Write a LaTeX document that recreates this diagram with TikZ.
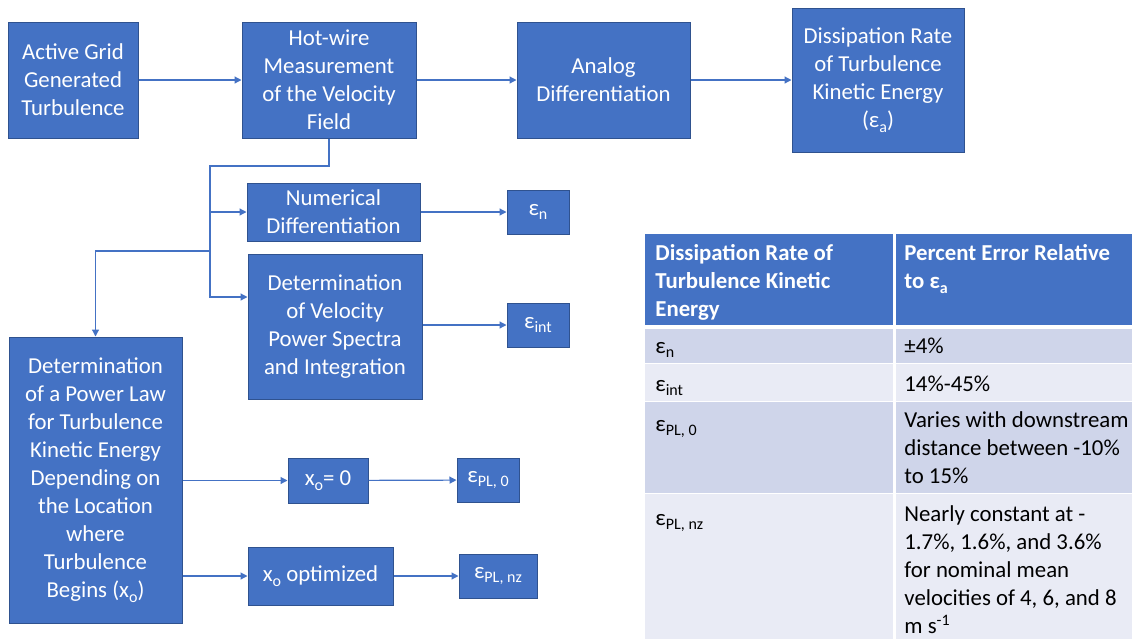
\documentclass[tikz,border=0pt]{standalone}
\usepackage{fontspec}
\setmainfont{Carlito}
\usetikzlibrary{arrows.meta,calc}
\definecolor{BoxClr}{HTML}{4472C4}
\definecolor{EdgeClr}{HTML}{2F528F}
\definecolor{RowClr}{HTML}{CFD5EA}
\definecolor{AltRowClr}{HTML}{E9EBF5}
\newcommand{\lowsub}[1]{\raisebox{-0.45ex}{\fontsize{8}{8}\selectfont #1}}
\newcommand{\epsub}[1]{ε\lowsub{#1}}

\begin{document}
\begin{tikzpicture}[x=0.5pt,y=-0.5pt,
  box/.style={draw=EdgeClr,line width=0.5pt,fill=BoxClr,text=white,align=center,
    inner sep=0pt,font=\fontsize{11.4}{14}\selectfont},
  link/.style={draw=BoxClr,line width=0.6pt,-{Triangle[length=3.5pt,width=3.5pt]}},
  cell/.style={anchor=north west,inner sep=0pt,align=left,
    font=\fontsize{11.4}{14}\selectfont,execute at begin node=\strut},
  head/.style={cell,text=white,font=\fontsize{11.4}{14}\selectfont\bfseries}]

\useasboundingbox (0,0) rectangle (1132,639);

\node[box,minimum width=65pt,minimum height=58pt] (grid) at (73,80) {Active Grid\\Generated\\Turbulence};
\node[box,minimum width=87pt,minimum height=58pt] (hotwire) at (329,80) {Hot-wire\\Measurement\\of the Velocity\\Field};
\node[box,minimum width=86.5pt,minimum height=58pt] (analog) at (603.5,80) {Analog\\Differentiation};
\node[box,minimum width=86pt,minimum height=72pt] (epsa) at (878,80) {Dissipation Rate\\of Turbulence\\Kinetic Energy\\(\epsub{a})};
\node[box,minimum width=86.5pt,minimum height=29pt] (numdiff) at (333.5,212) {Numerical\\Differentiation};
\node[box,minimum width=87pt,minimum height=72.5pt] (spectra) at (335,326.5) {Determination\\of Velocity\\Power Spectra\\and Integration};
\node[box,minimum width=31pt,minimum height=22pt] (epsn) at (538,212) {\epsub{n}};
\node[box,minimum width=31pt,minimum height=22pt] (epsint) at (538,325) {\epsub{int}};
\node[box,minimum width=86.5pt,minimum height=143pt] (powerlaw) at (95.5,480) {Determination\\of a Power Law\\for Turbulence\\Kinetic Energy\\Depending on\\the Location\\where\\Turbulence\\Begins (x\lowsub{o})};
\node[box,minimum width=40pt,minimum height=22.5pt] (xzero) at (328,480.5) {x\lowsub{o}= 0};
\node[box,minimum width=31pt,minimum height=22pt] (epsplz) at (488,480) {\epsub{PL, 0}};
\node[box,minimum width=72.5pt,minimum height=29pt] (xopt) at (320.5,576) {x\lowsub{o} optimized};
\node[box,minimum width=39pt,minimum height=22pt] (epsplnz) at (498,576) {\epsub{PL, nz}};

\coordinate (split) at (210,166);
\coordinate (tap) at (210,251);

\draw[link] (grid) -- (hotwire);
\draw[link] (hotwire) -- (analog);
\draw[link] (analog) -- (epsa);
\draw[link] (hotwire.south) |- (split) |- ($(spectra.west)+(0,-29.5)$);
\draw[link] (split) |- (numdiff.west);
\draw[link] (tap) -| (powerlaw.north);
\draw[link] (numdiff) -- (epsn);
\draw[link] (spectra.east |- epsint.west) -- (epsint.west);
\draw[link] (powerlaw.east |- xzero.west) -- (xzero.west);
\draw[link] (xzero) -- (epsplz);
\draw[link] (powerlaw.east |- xopt.west) -- (xopt.west);
\draw[link] (xopt) -- (epsplnz);

\fill[BoxClr] (645,234) rectangle (1132,325);
\fill[RowClr] (645,329) rectangle (1132,363);
\fill[AltRowClr] (645,364) rectangle (1132,401);
\fill[RowClr] (645,402) rectangle (1132,493);
\fill[AltRowClr] (645,494) rectangle (1132,639);
\draw[white,line width=1.5pt] (894,234) -- (894,639);

\node[head] (headl) at (655,244) {Dissipation Rate of\\Turbulence Kinetic\\Energy};
\node[head] (headr) at (904,244) {Percent Error Relative\\to \epsub{a}};
\node[cell] (n1) at (655,333) {\epsub{n}};
\node[cell] (v1) at (904,333) {±4\%};
\node[cell] (n2) at (655,371) {\epsub{int}};
\node[cell] (v2) at (904,371) {14\%-45\%};
\node[cell] (n3) at (655,411) {\epsub{PL, 0}};
\node[cell] (v3) at (904,411) {Varies with downstream\\distance between -10\%\\to 15\%};
\node[cell] (n4) at (655,505) {\epsub{PL, nz}};
\node[cell] (v4) at (904,505) {Nearly constant at -\\1.7\%, 1.6\%, and 3.6\%\\for nominal mean\\velocities of 4, 6, and 8\\m s\textsuperscript{-1}};

\end{tikzpicture}
\end{document}
